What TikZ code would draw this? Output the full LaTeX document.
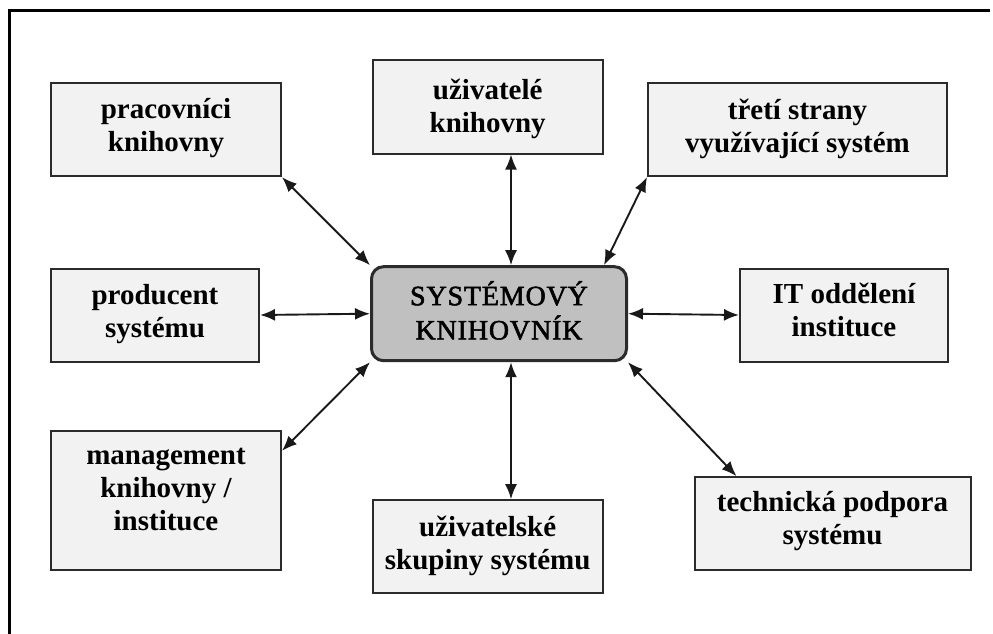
\documentclass[tikz,border=0pt]{standalone}
\usepackage{fontspec}
\setmainfont{Liberation Serif}
\newfontfamily\ctrfont[LetterSpace=3,FakeBold=2]{Liberation Serif}
\usetikzlibrary{arrows.meta,calc}
\definecolor{boxfill}{HTML}{F2F2F2}
\definecolor{ctrfill}{HTML}{C0C0C0}
\definecolor{edge}{HTML}{2B2B2B}
\begin{document}
\begin{tikzpicture}[x=1pt,y=-1pt,
  box/.style={draw=edge, line width=2pt, fill=boxfill, inner sep=0pt},
  ctrbox/.style={draw=edge, line width=3pt, fill=ctrfill, rounded corners=12pt, inner sep=0pt, minimum width=255pt, minimum height=94pt},
  txt/.style={font=\fontsize{29}{33}\selectfont\bfseries, anchor=base, inner sep=0pt},
  ctrtxt/.style={font=\fontsize{28}{34}\selectfont\ctrfont, anchor=base, inner sep=0pt},
  link/.style={line width=1.9pt, draw=black!90, {Latex[length=15pt,width=12pt]}-{Latex[length=15pt,width=12pt]}}
]
\useasboundingbox (0,0) rectangle (993,634);
% frame (top and left only)
\draw[line width=2.8pt] (990,10.5) -- (9.5,10.5) -- (9.5,634);

% boxes
\node[box, minimum width=230pt, minimum height=93pt] (prac) at (166,129.7) {};
\node[box, minimum width=230pt, minimum height=93pt] (uz) at (487.7,107) {};
\node[box, minimum width=299pt, minimum height=93pt] (tret) at (797.5,129.5) {};
\node[box, minimum width=208pt, minimum height=93pt] (prod) at (155,315) {};
\node[ctrbox] (ctr) at (499,313.7) {};
\node[box, minimum width=208pt, minimum height=93pt] (it) at (844,315) {};
\node[box, minimum width=230pt, minimum height=139pt] (mgmt) at (166,500.3) {};
\node[box, minimum width=230pt, minimum height=93pt] (uzs) at (487.7,546.7) {};
\node[box, minimum width=276pt, minimum height=93pt] (tech) at (832.5,523.7) {};

% texts
\node[txt] (prac-t) at ([yshift=-36pt]prac.north) {\begin{tabular}[t]{@{}c@{}}pracovníci\\knihovny\end{tabular}};
\node[txt] (uz-t) at ([yshift=-40pt]uz.north) {\begin{tabular}[t]{@{}c@{}}uživatelé\\knihovny\end{tabular}};
\node[txt] (tret-t) at ([yshift=-37pt]tret.north) {\begin{tabular}[t]{@{}c@{}}třetí strany\\využívající systém\end{tabular}};
\node[txt] (prod-t) at ([yshift=-37pt]prod.north) {\begin{tabular}[t]{@{}c@{}}producent\\systému\end{tabular}};
\node[ctrtxt] (ctr-t) at ([yshift=-40pt]ctr.north) {\begin{tabular}[t]{@{}c@{}}SYSTÉMOVÝ\\KNIHOVNÍK\end{tabular}};
\node[txt] (it-t) at ([yshift=-36pt]it.north) {\begin{tabular}[t]{@{}c@{}}IT oddělení\\instituce\end{tabular}};
\node[txt] (mgmt-t) at ([yshift=-35pt]mgmt.north) {\begin{tabular}[t]{@{}c@{}}management\\knihovny /\\instituce\end{tabular}};
\node[txt] (uzs-t) at ([yshift=-37pt]uzs.north) {\begin{tabular}[t]{@{}c@{}}uživatelské\\skupiny systému\end{tabular}};
\node[txt] (tech-t) at ([yshift=-35pt]tech.north) {\begin{tabular}[t]{@{}c@{}}technická podpora\\systému\end{tabular}};

% connectors
\coordinate (vx) at (511,0);
\draw[link] (prac.south east) -- (ctr.north west);
\draw[link] (uz.south -| vx) -- (ctr.north -| vx);
\draw[link] (tret.south west) -- ($(ctr.north east)+(-24,0)$);
\draw[link] (prod.east) -- (ctr.west);
\draw[link] (ctr.east) -- (it.west);
\draw[link] (ctr.south west) -- ($(mgmt.north east)+(0,21)$);
\draw[link] (ctr.south -| vx) -- (uzs.north -| vx);
\draw[link] (ctr.south east) -- ($(tech.north west)+(43,0)$);
\end{tikzpicture}
\end{document}
